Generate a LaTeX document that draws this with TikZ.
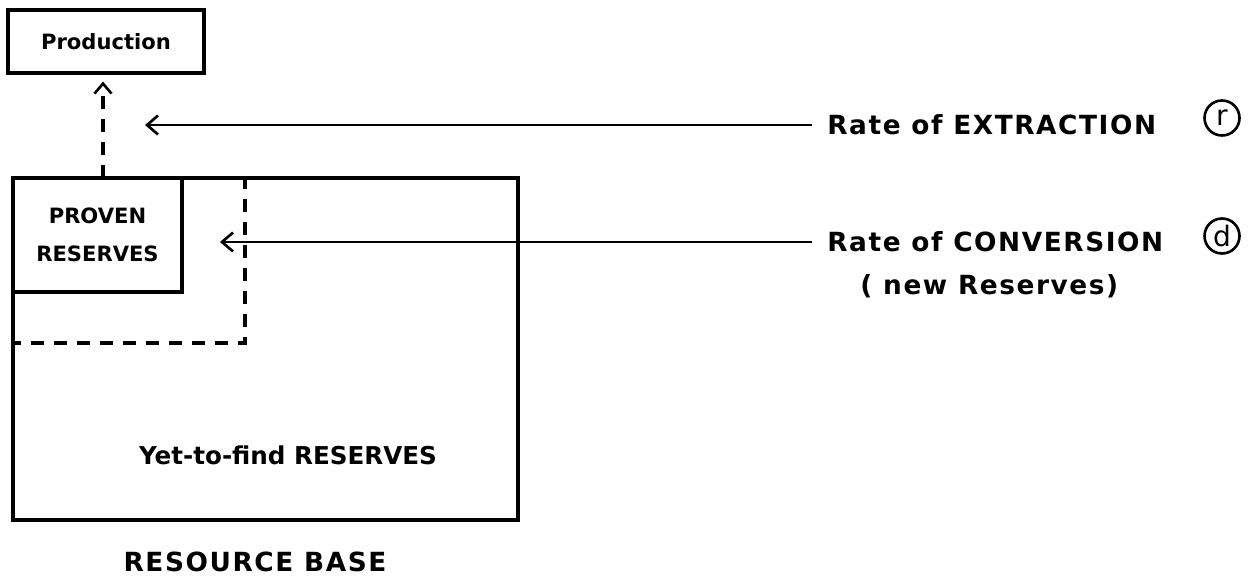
\documentclass[tikz,border=0pt]{standalone}
\usepackage{fontspec}
\setmainfont{DejaVu Sans}
\newfontfamily\lebar[LetterSpace=6]{DejaVu Sans}
\usetikzlibrary{arrows.meta, positioning}

\begin{document}
\begin{tikzpicture}[x=0.02cm, y=-0.02cm,
    font=\bfseries\fontsize{12}{14}\selectfont,
    kotak/.style={draw, line width=1.8pt, inner sep=0pt, align=center},
    panah/.style={-{Straight Barb[length=2.2mm, width=3.8mm, line width=1.5pt]}, line width=1.6pt},
    putus/.style={line width=1.8pt, dash pattern=on 0.26cm off 0.2cm},
    teks/.style={inner sep=0pt, font=\lebar\bfseries\fontsize{15}{17}\selectfont},
    bulat/.style={draw, circle, line width=1.5pt, inner sep=0pt, minimum size=0.7cm,
                  font=\mdseries\fontsize{16}{16}\selectfont}
  ]
    \useasboundingbox (0,0) rectangle (1253,584);
    \node[kotak, minimum width=3.92cm, minimum height=1.26cm] (prod) at (106,41.5) {Production};
    \node[kotak, minimum width=10.1cm, minimum height=6.84cm] (base) at (265.5,349) {};
    \node[kotak, minimum width=3.38cm, minimum height=2.28cm] (proven) at (97.5,235) {PROVEN\\[7.5pt]RESERVES};

    \coordinate (sudut) at (245,343);
    \draw[putus] (sudut |- base.north) -- (sudut) -- (sudut -| base.west);
    \coordinate (pangkal) at (103,178);
    \draw[putus, -{Straight Barb[length=2mm, width=3.4mm, line width=1.5pt]}, shorten >=0.14cm] (pangkal) -- (pangkal |- prod.south);

    \node[teks, anchor=west] (ext) at (827,125) {Rate of EXTRACTION};
    \node[bulat] (r) at (1222,118) {r};
    \coordinate (ujungr) at (145,125);
    \draw[panah, shorten <=0.3cm] (ext.west) -- (ujungr);

    \node[teks, anchor=west] (conv) at (827,242) {Rate of CONVERSION};
    \node[bulat] (d) at (1222,236) {d};
    \node[teks, anchor=west] (baru) at (860,286) {( new Reserves)};
    \coordinate (ujungd) at (220,242);
    \draw[panah, shorten <=0.3cm] (conv.west) -- (ujungd);

    \node[font=\bfseries\fontsize{14}{16}\selectfont] (belum) at (288,455) {Yet-to-find RESERVES};
    \node[teks] (judul) at (255,562) {RESOURCE BASE};
  \end{tikzpicture}
\end{document}
